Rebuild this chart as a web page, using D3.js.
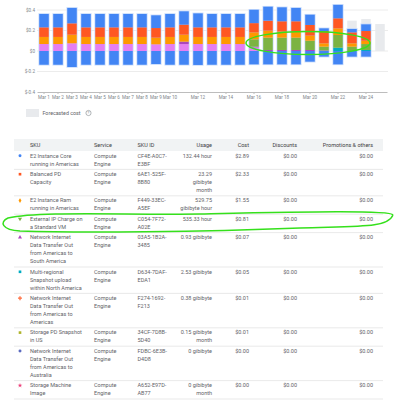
<!DOCTYPE html>
<meta charset="utf-8">
<style>
body { margin: 0; background: #fff; font-family: Roboto, Arial, sans-serif; }
.grid line { stroke: #ececec; stroke-width: 1; }
.axis text { fill: #80868b; font-size: 4.6px; font-family: Roboto, Arial, sans-serif; }
.axis path, .axis line { stroke: #bdbdbd; }
.cell { fill: #5f6368; font-size: 5.5px; }
.head { fill: #3c4043; font-size: 5.5px; }
</style>
<body>
<script src="https://d3js.org/d3.v7.min.js"></script>
<script>

// ---- chart data ----
var days = ["Mar 1","Mar 2","Mar 3","Mar 4","Mar 5","Mar 6","Mar 7","Mar 8","Mar 9","Mar 10",
            "Mar 11","Mar 12","Mar 13","Mar 14","Mar 15","Mar 16","Mar 17","Mar 18","Mar 19","Mar 20",
            "Mar 21","Mar 22","Mar 23","Mar 24","Mar 25"];
var xLabels = ["Mar 1","Mar 2","Mar 3","Mar 4","Mar 5","Mar 6","Mar 7","Mar 8","Mar 9","Mar 10",
               "Mar 12","Mar 14","Mar 16","Mar 18","Mar 20","Mar 22","Mar 24"];
var yTicks = [-0.4, -0.2, 0, 0.2, 0.4];

var violet = [0.068,0.068,0.075,0.068,0.068,0.068,0.068,0.068,0.065,0.068,0.068,0.068,0.068,0.068,0.068,0.035,0,0,0,0,0,0,0,0,0];
var purple = [0,0,0,0,0,0,0,0,0,0,0.023,0,0,0,0,0.007,0.01,0.01,0.01,0.01,0.005,0,0,0,0];
var teal   = [0,0,0,0,0,0,0,0,0,0,0,0,0,0,0,0,0,0,0,0,0,0.032,0,0.01,0];
var green  = [0,0,0,0,0,0,0,0,0,0,0,0,0,0,0,0.072,0.12,0.12,0.12,0.09,0.037,0.124,0.042,0.058,0];
var orange = [0.069,0.069,0.084,0.069,0.069,0.069,0.069,0.069,0.065,0.069,0.068,0.069,0.069,0.069,0.069,0.068,0.068,0.06,0.06,0.05,0.033,0.065,0.033,0.032,0];
var red    = [0.094,0.094,0.111,0.094,0.094,0.094,0.094,0.094,0.094,0.094,0.098,0.094,0.094,0.094,0.094,0.09,0.098,0.1,0.1,0.104,0.12,0.098,0.107,0.095,0];
var blue   = [0.13,0.13,0.15,0.13,0.13,0.13,0.13,0.13,0.124,0.13,0.13,0.136,0.13,0.13,0.13,0.13,0.136,0.136,0.13,0.1,0.026,0.131,0.033,0.065,0];
var credits = [-0.134,-0.134,-0.156,-0.134,-0.134,-0.134,-0.134,-0.134,-0.127,-0.134,-0.134,-0.136,-0.134,-0.134,-0.134,-0.13,-0.13,-0.13,-0.13,-0.104,-0.055,-0.13,-0.055,-0.055,0];
var forecast = [0,0,0,0,0,0,0,0,0,0,0,0,0,0,0,0,0,0,0,0,0,0,0.296,0.312,0.263];

var keys = ["violet","purple","teal","green","orange","red","blue"];
var colors = {violet:"#e57ff2", purple:"#ab47bc", teal:"#00acc1", green:"#7cb342",
              orange:"#ff9800", red:"#ff5722", blue:"#4285f4"};

// ---- table data ----
var skuNames = [["E2 Instance Core","running in Americas"],["Balanced PD","Capacity"],
  ["E2 Instance Ram","running in Americas"],["External IP Charge on","a Standard VM"],
  ["Network Internet","Data Transfer Out","from Americas to","South America"],
  ["Multi-regional","Snapshot upload","within North America"],
  ["Network Internet","Data Transfer Out","from Americas to","Americas"],
  ["Storage PD Snapshot","in US"],
  ["Network Internet","Data Transfer Out","from Americas to","Australia"],
  ["Storage Machine","Image"]];
var services = ["Compute","Engine"];
var skuIds = [["CF4E-A0C7-","E3BF"],["6AE1-525F-","8B80"],["F449-33EC-","A5EF"],["C054-7F72-","A02E"],
  ["03A5-1B2A-","3485"],["D634-7DAF-","EDA1"],["F274-1692-","F213"],["34CF-7D8B-","5D40"],
  ["FDBC-6E3B-","D4D8"],["A652-E97D-","AB77"]];
var usage = [["132.44 hour"],["23.29","gibibyte","month"],["529.75","gibibyte hour"],["535.33 hour"],
  ["0.93 gibibyte"],["2.53 gibibyte"],["0.38 gibibyte"],["0.15 gibibyte","month"],
  ["0 gibibyte"],["0 gibibyte","month"]];
var costs = ["$2.89","$2.33","$1.55","$0.81","$0.07","$0.05","$0.01","$0.01","$0.00","$0.00"];
var discounts = ["$0.00","$0.00","$0.00","$0.00","$0.00","$0.00","$0.00","$0.00","$0.00","$0.00"];
var promotions = ["$0.00","$0.00","$0.00","$0.00","$0.00","$0.00","$0.00","$0.00","$0.00","$0.00"];
var markerColors = ["#4285f4","#ff5722","#ff9800","#7cb342","#ab47bc","#00acc1","#ff7043","#afb42b","#5c6bc0","#ec407a"];
var markerShapes = [d3.symbolCircle, d3.symbolSquare, d3.symbolDiamond, d3.symbolTriangle, d3.symbolTriangle,
  d3.symbolSquare, d3.symbolCross, d3.symbolSquare, d3.symbolCircle, d3.symbolStar];

var svg = d3.select("body").append("svg")
    .attr("width", 394)
    .attr("height", 400);

// scales
var x = d3.scaleBand().domain(days).range([37, 387]).paddingInner(0.32).paddingOuter(0.16);
var y = d3.scaleLinear().domain([-0.4, 0.4]).range([92, 10]);

// gridlines
svg.append("g").attr("class", "grid")
  .selectAll("line")
  .data(yTicks.slice(1))
  .enter().append("line")
    .attr("x1", 37).attr("x2", 388)
    .attr("y1", function(d) { return y(d); })
    .attr("y2", function(d) { return y(d); });

// build rows for the stack
var table = days.map(function(d, i) {
  return {day: d, violet: violet[i], purple: purple[i], teal: teal[i], green: green[i],
          orange: orange[i], red: red[i], blue: blue[i], credit: credits[i], forecast: forecast[i]};
});
var series = d3.stack().keys(keys)(table);

// forecast bars behind
svg.append("g").selectAll("rect")
  .data(table.filter(function(d) { return d.forecast > 0; }))
  .enter().append("rect")
    .attr("x", function(d) { return x(d.day); })
    .attr("y", function(d) { return y(d.forecast); })
    .attr("width", x.bandwidth())
    .attr("height", function(d) { return y(0) - y(d.forecast); })
    .attr("fill", "#e8eaed");

// light halo round each bar
svg.append("g").selectAll("rect")
  .data(table.filter(function(d) { return d.credit < 0; }))
  .enter().append("rect")
    .attr("x", function(d) { return x(d.day) - 0.8; })
    .attr("y", function(d) {
      var top = keys.reduce(function(s, k) { return s + d[k]; }, 0);
      return y(top) - 0.8; })
    .attr("width", x.bandwidth() + 1.6)
    .attr("height", function(d) {
      var top = keys.reduce(function(s, k) { return s + d[k]; }, 0);
      return y(d.credit) - y(top) + 1.6; })
    .attr("fill", "#c9dcfc");

// negative part (blue)
svg.append("g").selectAll("rect")
  .data(table.filter(function(d) { return d.credit < 0; }))
  .enter().append("rect")
    .attr("x", function(d) { return x(d.day); })
    .attr("y", y(0))
    .attr("width", x.bandwidth())
    .attr("height", function(d) { return y(d.credit) - y(0); })
    .attr("fill", colors.blue);

// positive stacks
svg.append("g").selectAll("g")
  .data(series)
  .enter().append("g")
    .attr("fill", function(d) { return colors[d.key]; })
  .selectAll("rect")
  .data(function(d) { return d.filter(function(p) { return p[1] - p[0] > 0; }); })
  .enter().append("rect")
    .attr("x", function(d) { return x(d.data.day); })
    .attr("y", function(d) { return y(d[1]); })
    .attr("width", x.bandwidth())
    .attr("height", function(d) { return y(d[0]) - y(d[1]); });

// y axis labels
svg.append("g")
    .attr("class", "axis")
    .attr("transform", "translate(36,0)")
    .call(d3.axisLeft(y).tickValues(yTicks).tickSize(0).tickPadding(1)
      .tickFormat(function(d) { return "$" + d; }))
    .call(function(g) { g.select(".domain").remove(); });

// x axis
svg.append("g")
    .attr("class", "axis")
    .attr("transform", "translate(0,92)")
    .call(d3.axisBottom(x).tickValues(xLabels).tickSize(2).tickPadding(1.5).tickSizeOuter(0));

// legend
svg.append("rect").attr("x", 26).attr("y", 109).attr("width", 13).attr("height", 8).attr("fill", "#e8eaed");
svg.append("text").attr("x", 42.5).attr("y", 113).attr("dy", "0.35em")
    .style("font-size", "5.3px").style("fill", "#5f6368").text("Forecasted cost");
svg.append("circle").attr("cx", 88.5).attr("cy", 113).attr("r", 2.6)
    .attr("fill", "none").attr("stroke", "#80868b").attr("stroke-width", 0.6);
svg.append("text").attr("x", 88.5).attr("y", 113).attr("dy", "0.35em").attr("text-anchor", "middle")
    .style("font-size", "3.8px").style("fill", "#80868b").text("?");

// ---- table ----
var tLeft = 14, tRight = 383, lineH = 8;
svg.append("rect").attr("x", tLeft).attr("y", 139).attr("width", tRight - tLeft).attr("height", 12)
    .attr("fill", "#f1f3f4");

var headers = [
  {t: "SKU", x: 30, a: "start"}, {t: "Service", x: 94, a: "start"}, {t: "SKU ID", x: 137.5, a: "start"},
  {t: "Usage", x: 212, a: "end"}, {t: "Cost", x: 249, a: "end"}, {t: "Discounts", x: 297, a: "end"},
  {t: "Promotions & others", x: 373, a: "end"}];
svg.append("g").selectAll("text")
  .data(headers)
  .enter().append("text")
    .attr("class", "head")
    .attr("x", function(d) { return d.x; })
    .attr("y", 145)
    .attr("dy", "0.35em")
    .attr("text-anchor", function(d) { return d.a; })
    .text(function(d) { return d.t; });

var rowTop = 151;
var rows = skuNames.map(function(name, i) {
  var n = Math.max(name.length, 2, usage[i].length);
  var r = {i: i, top: rowTop, h: (n - 1) * lineH + 10.4};
  rowTop += r.h;
  return r;
});

var rowG = svg.append("g").selectAll("g")
  .data(rows)
  .enter().append("g")
    .attr("transform", function(d) { return "translate(0," + d.top + ")"; });

rowG.append("line")
    .attr("x1", tLeft).attr("x2", tRight)
    .attr("y1", function(d) { return d.h; }).attr("y2", function(d) { return d.h; })
    .attr("stroke", "#e3e3e3").attr("stroke-width", 0.8);

rowG.append("path")
    .attr("transform", function(d) {
      return "translate(20,4.8)" + (d.i === 3 ? " rotate(180)" : ""); })
    .attr("d", function(d) { return d3.symbol().type(markerShapes[d.i]).size(d.i === 6 ? 9 : 7)(); })
    .attr("fill", function(d) { return markerColors[d.i]; });

function lines(g, getter, xpos, anchor) {
  g.append("text")
      .attr("class", "cell")
      .attr("text-anchor", anchor)
    .selectAll("tspan")
    .data(function(d) { var v = getter(d.i); return typeof v === "string" ? [v] : v; })
    .enter().append("tspan")
      .attr("x", xpos)
      .attr("y", function(d, j) { return 4.6 + j * lineH; })
      .attr("dy", "0.35em")
      .text(function(d) { return d; });
}
lines(rowG, function(i) { return skuNames[i]; }, 30, "start");
lines(rowG, function(i) { return services; }, 94, "start");
lines(rowG, function(i) { return skuIds[i]; }, 137.5, "start");
lines(rowG, function(i) { return usage[i]; }, 212, "end");
lines(rowG, function(i) { return costs[i]; }, 249, "end");
lines(rowG, function(i) { return discounts[i]; }, 297, "end");
lines(rowG, function(i) { return promotions[i]; }, 373, "end");

// ---- hand drawn green marks ----
svg.append("ellipse")
    .attr("cx", 308).attr("cy", 43).attr("rx", 62).attr("ry", 11.5)
    .attr("fill", "none").attr("stroke", "#35e01c").attr("stroke-width", 1.5);
svg.append("path")
    .attr("d", "M393,215 C390,210 300,212 200,214 C120,215 40,211 8,218 C-1,222 2,230 20,231 C80,233 200,232 300,228 C360,226 388,228 393,215")
    .attr("fill", "none").attr("stroke", "#35e01c").attr("stroke-width", 1.5);

</script>
</body>
